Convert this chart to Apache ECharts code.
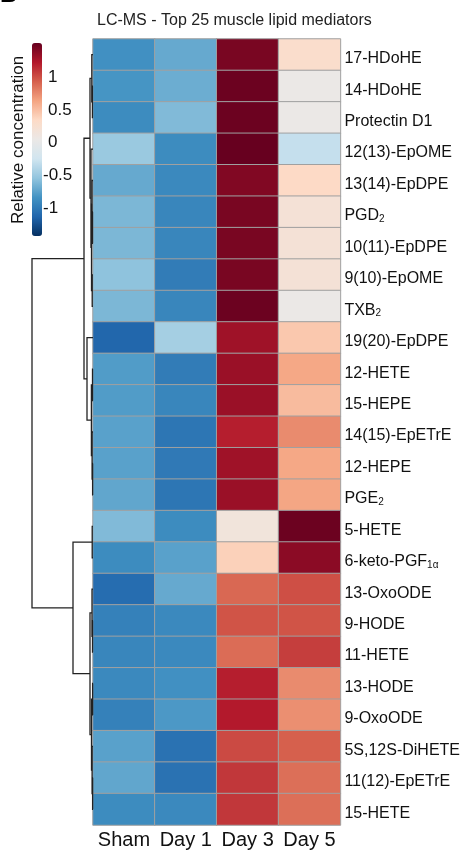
<!DOCTYPE html>
<html>
<head>
<meta charset="utf-8">
<script src="https://cdn.jsdelivr.net/npm/echarts@6/dist/echarts.min.js"></script>
<style>
  html, body { margin: 0; padding: 0; background: #fff; }
  #chart { width: 463px; height: 851px; }
</style>
</head>
<body>
<div id="chart"></div>
<script>
// row order as in the clustered heatmap, "|" marks a subscript
const rowNames = [
  '17-HDoHE', '14-HDoHE', 'Protectin D1', '12(13)-EpOME', '13(14)-EpDPE',
  'PGD|2', '10(11)-EpDPE', '9(10)-EpOME', 'TXB|2', '19(20)-EpDPE',
  '12-HETE', '15-HEPE', '14(15)-EpETrE', '12-HEPE', 'PGE|2',
  '5-HETE', '6-keto-PGF|1α', '13-OxoODE', '9-HODE', '11-HETE',
  '13-HODE', '9-OxoODE', '5S,12S-DiHETE', '11(12)-EpETrE', '15-HETE'
];
const groups = ['Sham', 'Day 1', 'Day 3', 'Day 5'];

// row-scaled relative concentration, one array per group
const sham = [-0.85, -0.82, -0.88, -0.5, -0.7, -0.62, -0.62, -0.55, -0.62, -1.12,
  -0.78, -0.78, -0.75, -0.75, -0.72, -0.6, -0.88, -1.08, -0.95, -0.92,
  -0.9, -0.95, -0.75, -0.72, -0.88];
const day1 = [-0.7, -0.68, -0.6, -0.88, -0.9, -0.92, -0.92, -0.98, -0.92, -0.45,
  -0.98, -0.92, -1.02, -1.0, -1.02, -0.88, -0.75, -0.7, -0.9, -0.9,
  -0.85, -0.8, -1.05, -1.05, -0.9];
const day3 = [1.45, 1.5, 1.5, 1.52, 1.42, 1.45, 1.45, 1.45, 1.5, 1.3,
  1.32, 1.32, 1.2, 1.3, 1.32, 0.15, 0.4, 0.9, 0.98, 0.88,
  1.2, 1.22, 1.02, 1.1, 1.1];
const day5 = [0.3, 0.05, 0.05, -0.3, 0.35, 0.2, 0.2, 0.2, 0.05, 0.45,
  0.62, 0.52, 0.75, 0.62, 0.63, 1.5, 1.38, 1.0, 0.98, 1.07,
  0.75, 0.73, 0.93, 0.87, 0.87];

const colorTicks = [-1, -0.5, 0, 0.5, 1];
const colorMin = -1.42;
const colorMax = 1.52;

// hclust-style merges: negative = leaf (1-based row), positive = earlier merge (1-based)
const merges = [
  [-2, -3], [-1, 1], [-6, -7], [-5, 3], [-8, -9], [4, 5], [-4, 6], [2, 7],
  [-11, -12], [-14, -15], [-13, 10], [9, 11], [-10, 12], [8, 13],
  [-16, -17], [-19, -20], [-18, 16], [-21, -22], [-24, -25], [-23, 19], [18, 20], [17, 21],
  [15, 22], [14, 23]
];
const mergeHeights = [
  0.6, 1.2, 0.5, 1.0, 0.8, 1.5, 2.0, 3.0,
  0.5, 0.4, 0.9, 1.6, 6.0, 9.0,
  0.8, 0.5, 1.0, 0.4, 0.4, 0.9, 1.5, 3.0,
  20.0, 61.0
];

const palette = ['#053061', '#2166ac', '#4393c3', '#92c5de', '#d1e5f0', '#ebe8e6',
  '#fddbc7', '#f4a582', '#d6604d', '#b2182b', '#67001f'];

const cols = [sham, day1, day3, day5];
const heatData = [];
cols.forEach((arr, c) => arr.forEach((v, r) => heatData.push([c, r, v])));

// dendrogram segments from merge table
const nodePos = [];
const nodeH = [];
function childInfo(id) {
  if (id < 0) return [-id - 1, 0];
  return [nodePos[id - 1], nodeH[id - 1]];
}
const dendroData = merges.map((m, i) => {
  const a = childInfo(m[0]);
  const b = childInfo(m[1]);
  nodePos[i] = (a[0] + b[0]) / 2;
  nodeH[i] = mergeHeights[i];
  return [mergeHeights[i], a[0], a[1], b[0], b[1]];
});

function rowLabel(s) {
  const p = s.split('|');
  return p.length > 1 ? '{n|' + p[0] + '}{s|' + p[1] + '}' : '{n|' + s + '}';
}

const chart = echarts.init(document.getElementById('chart'));
chart.setOption({
  animation: false,
  backgroundColor: '#fff',
  textStyle: { fontFamily: 'Liberation Sans, Arial, sans-serif' },
  title: {
    text: 'LC-MS - Top 25 muscle lipid mediators',
    left: 92, top: 8,
    textStyle: { fontSize: 16, fontWeight: 'normal', color: '#222' }
  },
  graphic: [
    { type: 'text', left: 0, top: -17, style: { text: 'B', font: 'bold 24px Liberation Sans', fill: '#000' } },
    { type: 'text', x: 18, y: 140, rotation: Math.PI / 2,
      style: { text: 'Relative concentration', font: '17px Liberation Sans', fill: '#111',
        align: 'center', verticalAlign: 'middle' } }
  ],
  grid: [
    { left: 93, top: 39, width: 249, height: 786 },
    { left: 32, top: 39, width: 61, height: 786 },
    { left: 32, top: 43, width: 10, height: 193 }
  ],
  xAxis: [
    { type: 'category', gridIndex: 0, data: groups, position: 'bottom',
      axisLine: { show: false }, axisTick: { show: false }, splitLine: { show: false },
      axisLabel: { interval: 0, fontSize: 20, color: '#111', margin: 5 } },
    { type: 'value', gridIndex: 1, min: 0, max: 61, inverse: true, show: false },
    { type: 'value', gridIndex: 2, min: 0, max: 1, show: false }
  ],
  yAxis: [
    { type: 'category', gridIndex: 0, data: rowNames, inverse: true, position: 'right',
      axisLine: { show: false }, axisTick: { show: false }, splitLine: { show: false },
      axisLabel: {
        interval: 0, margin: 4, formatter: rowLabel,
        rich: {
          n: { fontSize: 16, color: '#111', lineHeight: 24, verticalAlign: 'bottom' },
          s: { fontSize: 10, color: '#111', lineHeight: 10, verticalAlign: 'bottom' }
        }
      } },
    { type: 'value', gridIndex: 1, min: -0.5, max: 24.5, inverse: true, show: false },
    { type: 'value', gridIndex: 2, min: colorMin, max: colorMax, position: 'right',
      axisLine: { show: false }, axisTick: { show: false }, splitLine: { show: false },
      axisLabel: { customValues: colorTicks.filter(v => v >= 0), fontSize: 17, color: '#111', margin: 6 } },
    { type: 'value', gridIndex: 2, min: colorMin, max: colorMax, position: 'right',
      axisLine: { show: false }, axisTick: { show: false }, splitLine: { show: false },
      axisLabel: { customValues: colorTicks.filter(v => v < 0), fontSize: 17, color: '#111', margin: 1 } }
  ],
  visualMap: {
    type: 'continuous', seriesIndex: 0, min: colorMin, max: colorMax,
    calculable: false, orient: 'vertical', left: 32, top: 43, padding: 0,
    itemWidth: 10, itemHeight: 193, text: null,
    inRange: { color: palette }
  },
  series: [
    {
      type: 'heatmap', xAxisIndex: 0, yAxisIndex: 0, data: heatData,
      itemStyle: { borderColor: '#a0a0a0', borderWidth: 1 },
      emphasis: { disabled: true }
    },
    {
      type: 'custom', xAxisIndex: 1, yAxisIndex: 1, data: dendroData, silent: true,
      renderItem: function (params, api) {
        const p1 = api.coord([api.value(2), api.value(1)]);
        const p2 = api.coord([api.value(0), api.value(1)]);
        const p3 = api.coord([api.value(0), api.value(3)]);
        const p4 = api.coord([api.value(4), api.value(3)]);
        return {
          type: 'polyline',
          shape: { points: [p1, p2, p3, p4] },
          style: { stroke: '#222', lineWidth: 1.3, fill: null }
        };
      }
    }
  ]
});
</script>
</body>
</html>
